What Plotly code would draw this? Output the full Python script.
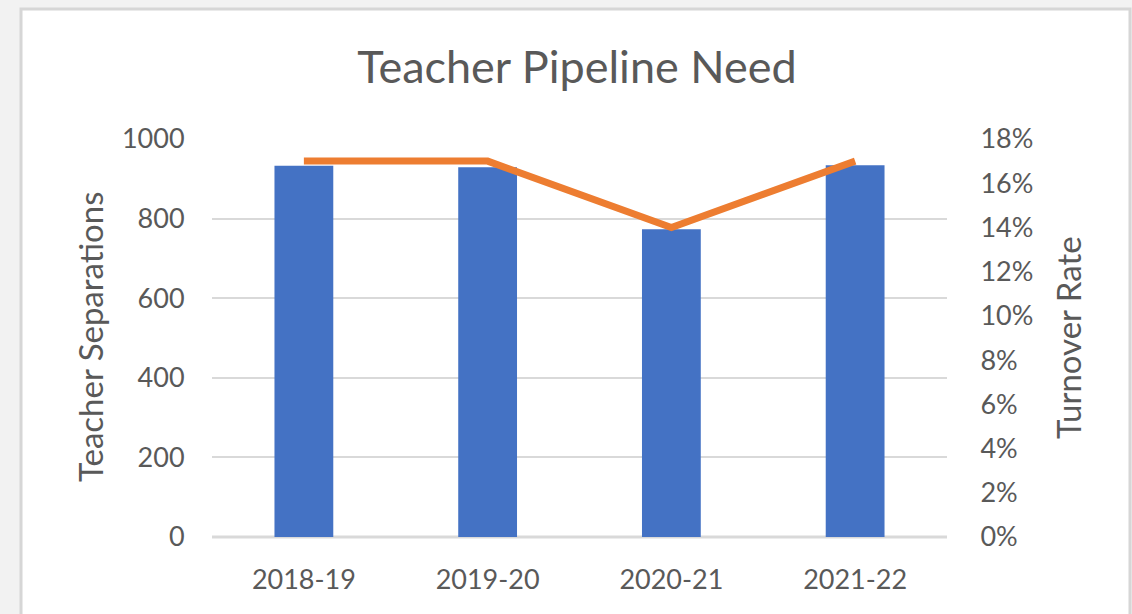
import plotly.graph_objects as go

categories = ["2018-19", "2019-20", "2020-21", "2021-22"]
separations = [933, 929, 773, 934]
turnover = [0.17, 0.17, 0.14, 0.17]
left_ticks = [0, 200, 400, 600, 800, 1000]
right_ticks = [0, 0.02, 0.04, 0.06, 0.08, 0.10, 0.12, 0.14, 0.16, 0.18]

FONT = "Lato"
GRAY = "#595959"

W, H = 1132, 614
L, R, T, B = 212, 947, 139, 537

def px(x):
    return (x - L) / (R - L)

def py(y):
    return (B - y) / (B - T)

fig = go.Figure()
fig.add_trace(go.Bar(x=categories, y=separations, marker=dict(color="#4472C4", line=dict(width=0)),
                     width=0.32, name="Teacher Separations", yaxis="y"))
fig.add_trace(go.Scatter(x=categories, y=turnover, mode="lines",
                         line=dict(color="#ED7D31", width=7), name="Turnover Rate", yaxis="y2"))

fig.update_layout(
    width=W, height=H,
    margin=dict(l=L, r=W - R, t=T, b=H - B, autoexpand=False),
    paper_bgcolor="#f2f2f2",
    plot_bgcolor="rgba(0,0,0,0)",
    showlegend=False,
    font=dict(family=FONT, color=GRAY, size=27),
    title=dict(text="Teacher Pipeline Need", x=px(577), xref="paper", xanchor="center",
               y=1 - 67 / H, yref="container", yanchor="middle",
               font=dict(family=FONT, size=45, color=GRAY)),
    xaxis=dict(showgrid=False, showline=False, zeroline=False, ticks="outside", ticklen=19,
               tickcolor="rgba(0,0,0,0)", tickfont=dict(size=27, color=GRAY)),
    yaxis=dict(range=[0, 1000], tickvals=left_ticks, showgrid=True, gridcolor="#d9d9d9", gridwidth=2,
               zeroline=False, showline=False, ticks="outside", ticklen=21,
               tickcolor="rgba(0,0,0,0)", tickfont=dict(size=27, color=GRAY)),
    yaxis2=dict(range=[0, 0.18], tickvals=right_ticks, tickformat=".0%", overlaying="y", side="right",
                showgrid=False, zeroline=False, showline=False, ticks="outside", ticklen=27,
                tickcolor="rgba(0,0,0,0)", tickfont=dict(size=27, color=GRAY)),
    shapes=[
        dict(type="rect", xref="paper", yref="paper", x0=px(21), x1=px(1130), y0=py(640), y1=py(9),
             fillcolor="white", line=dict(color="#d6d6d6", width=3), layer="below"),
        dict(type="line", xref="paper", yref="paper", x0=0, x1=1, y0=0, y1=0,
             line=dict(color="#d9d9d9", width=3), layer="below"),
    ],
    annotations=[
        dict(text="Teacher Separations", xref="paper", yref="paper", x=px(90), y=py(337),
             textangle=-90, showarrow=False, xanchor="center", yanchor="middle",
             font=dict(family=FONT, size=33, color=GRAY)),
        dict(text="Turnover Rate", xref="paper", yref="paper", x=px(1068), y=py(338),
             textangle=-90, showarrow=False, xanchor="center", yanchor="middle",
             font=dict(family=FONT, size=33, color=GRAY)),
    ],
)

fig.write_html("out.html", config={"displayModeBar": False},
               post_script="document.body.style.margin='0';document.body.style.overflow='hidden';")
